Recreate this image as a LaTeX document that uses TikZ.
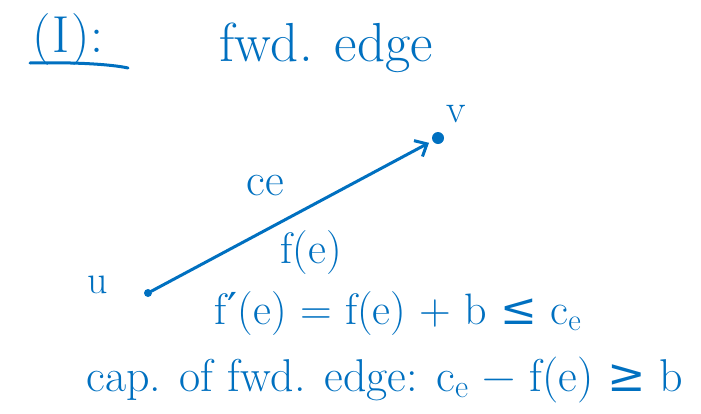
\documentclass[tikz,border=0pt]{standalone}
\usepackage{fontspec}
\newfontfamily\symfont{DejaVu Serif}
\usetikzlibrary{arrows.meta}
\definecolor{ink}{RGB}{0,112,192}
\newcommand{\sube}{\textsubscript{e}}
\begin{document}
\begin{tikzpicture}[x=1pt,y=-1pt,
  hand/.style={text=ink,inner sep=0pt,font=\fontsize{#1}{#1}\selectfont},
  hand/.default=30,
  dotnode/.style={circle,fill=ink,inner sep=0pt,minimum size=#1},
  inkline/.style={draw=ink,line width=3pt,line cap=round}]
\useasboundingbox (0,0) rectangle (701,413);
\node[hand=52] (title) at (68,40) {(\kern2pt I\kern2pt):};
\draw[inkline] (30,63) .. controls (70,62) and (110,64) .. (128,68) coordinate (ul);
\node[hand=55] (fwd) at (326,48) {fwd. edge};
\node[dotnode=12pt] (v) at (438,138) {};
\node[dotnode=8pt] (u) at (148,293) {};
\node[hand=40] (vl) at (456,114) {v};
\node[hand=40] (ul2) at (98,285) {u};
\draw[inkline,shorten >=4pt,-{Straight Barb[length=10pt,width=18pt,line width=3pt]}] (u) -- (v);
\node[hand=46] (ce) at (265,186) {ce};
\node[hand=44] (fe) at (311,253) {f(e)};
\node[hand=44] (eq1) at (398,314) {f{\symfont\kern1pt′}(e) = f(e) + b {\symfont ≤} c\sube};
\node[hand=46] (eq2) at (385,380) {cap. of fwd. edge: c\sube{} − f(e) {\symfont ≥} b};
\end{tikzpicture}
\end{document}
